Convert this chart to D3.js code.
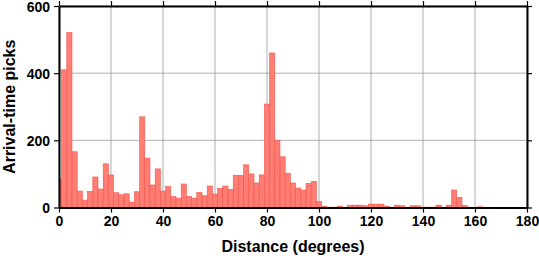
<!DOCTYPE html>
<html>
<head>
<meta charset="utf-8">
<script src="https://cdn.jsdelivr.net/npm/d3@7"></script>
<style>
  body { margin: 0; background: #fff; }
  text { font-family: "Liberation Sans", Arial, sans-serif; font-weight: bold; }
</style>
</head>
<body>
<svg id="chart" width="539" height="258"></svg>
<script>
// histogram bins, 2 degrees wide, centred on even distances
const binCenters = d3.range(0, 180, 2);
const pickCounts = [
  85, 410, 521, 166, 49, 22, 48, 91, 55, 130,
  97, 44, 38, 41, 16, 47, 270, 147, 67, 115,
  49, 62, 33, 28, 70, 33, 28, 45, 35, 64,
  40, 57, 64, 54, 96, 96, 127, 100, 73, 97,
  308, 460, 200, 151, 102, 73, 58, 52, 72, 78,
  18, 4, 1, 1, 4, 1, 7, 7, 7, 5,
  10, 10, 10, 4, 1, 7, 5, 1, 5, 5,
  1, 1, 1, 7, 1, 7, 52, 30, 6, 1,
  0, 2, 0, 0, 0, 0, 0, 0, 0, 0
];
const xTicks = [0, 20, 40, 60, 80, 100, 120, 140, 160, 180];
const yTicks = [0, 200, 400, 600];
const binWidth = 2;

const svg = d3.select("#chart");
const margin = { top: 6, right: 12, bottom: 50.5, left: 59 };
const width = 539 - margin.left - margin.right;
const height = 258 - margin.top - margin.bottom;

const x = d3.scaleLinear().domain([0, 180]).range([0, width]);
const y = d3.scaleLinear().domain([0, 600]).range([height, 0]);

const g = svg.append("g").attr("transform", `translate(${margin.left},${margin.top})`);

// grid
g.append("g")
  .selectAll("line.vgrid")
  .data(xTicks)
  .join("line")
  .attr("x1", (d) => x(d)).attr("x2", (d) => x(d))
  .attr("y1", 0).attr("y2", height)
  .attr("stroke", "#9a9a9a").attr("stroke-width", 0.8);
g.append("g")
  .selectAll("line.hgrid")
  .data(yTicks)
  .join("line")
  .attr("x1", 0).attr("x2", width)
  .attr("y1", (d) => y(d)).attr("y2", (d) => y(d))
  .attr("stroke", "#9a9a9a").attr("stroke-width", 0.8);

// bars, clipped to the frame
g.append("clipPath").attr("id", "clip")
  .append("rect").attr("width", width).attr("height", height);

const bins = binCenters.map((c, i) => ({ c, n: pickCounts[i] })).filter((d) => d.n > 0);
g.append("g")
  .attr("clip-path", "url(#clip)")
  .selectAll("rect")
  .data(bins)
  .join("rect")
  .attr("x", (d) => x(d.c - binWidth / 2))
  .attr("width", (d) => x(d.c + binWidth / 2) - x(d.c - binWidth / 2))
  .attr("y", (d) => y(d.n))
  .attr("height", (d) => height - y(d.n))
  .attr("fill", "#ff7d72")
  .attr("stroke", "#f0564c")
  .attr("stroke-width", 0.6);

// axes on all four sides, ticks outward
function styleAxis(sel) {
  sel.select(".domain").attr("stroke", "#000").attr("stroke-width", 2);
  sel.selectAll(".tick line").attr("stroke", "#000").attr("stroke-width", 1.2);
  sel.selectAll(".tick text").attr("font-size", 14).attr("fill", "#000");
}

g.append("g")
  .attr("transform", `translate(0,${height})`)
  .call(d3.axisBottom(x).tickValues(xTicks).tickSize(5).tickSizeOuter(0).tickPadding(4))
  .call(styleAxis);
g.append("g")
  .call(d3.axisLeft(y).tickValues(yTicks).tickSize(5).tickSizeOuter(0).tickPadding(4))
  .call(styleAxis)
  .selectAll(".tick text").attr("dy", "0.36em");
g.append("g")
  .call(d3.axisTop(x).tickValues(xTicks).tickSize(5).tickSizeOuter(0).tickFormat(""))
  .call(styleAxis);
g.append("g")
  .attr("transform", `translate(${width},0)`)
  .call(d3.axisRight(y).tickValues(yTicks).tickSize(5).tickSizeOuter(0).tickFormat(""))
  .call(styleAxis);

// titles
svg.append("text")
  .attr("x", margin.left + width / 2)
  .attr("y", 252)
  .attr("text-anchor", "middle")
  .attr("font-size", 16)
  .text("Distance (degrees)");

svg.append("text")
  .attr("transform", `translate(15,${margin.top + height / 2}) rotate(-90)`)
  .attr("text-anchor", "middle")
  .attr("font-size", 16)
  .text("Arrival-time picks");
</script>
</body>
</html>
